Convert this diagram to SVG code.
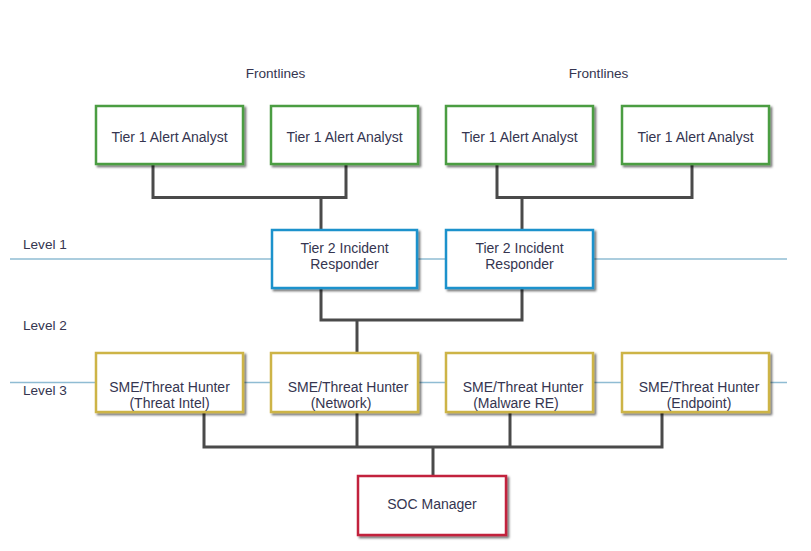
<svg xmlns="http://www.w3.org/2000/svg" width="811" height="551" viewBox="0 0 811 551">
<defs>
<filter id="sh" x="-10%" y="-10%" width="130%" height="130%">
<feDropShadow dx="2" dy="2" stdDeviation="1" flood-color="#000" flood-opacity="0.55"/>
</filter>
<style>
text{font-family:"Liberation Sans",Arial,sans-serif;font-size:14px;fill:#353550;}
.s{font-size:13.6px;}
.c{text-anchor:middle;}
.box{fill:#fff;stroke-width:2.5;filter:url(#sh);}
.g{stroke:#4b9d43;}
.b{stroke:#1c92cc;}
.y{stroke:#cdb447;}
.r{stroke:#c2213e;}
.lvl{stroke:#8fbcd3;stroke-width:1.3;fill:none;}
.con{stroke:#4a4a4a;stroke-width:3;fill:none;}
</style>
</defs>
<rect width="811" height="551" fill="#fff"/>
<g id="levels">
<line class="lvl" x1="10" y1="259" x2="787" y2="259"/>
<line class="lvl" x1="10" y1="382.5" x2="787" y2="382.5"/>
<text class="s" x="23" y="249">Level 1</text>
<text class="s" x="23" y="330">Level 2</text>
<text class="s" x="23" y="395">Level 3</text>
<text class="c s" x="275.5" y="78">Frontlines</text>
<text class="c s" x="598.5" y="78">Frontlines</text>
</g>
<g id="connectors">
<polyline class="con" points="153,165 153,197.5 346,197.5 346,165"/>
<line class="con" x1="321" y1="197.5" x2="321" y2="230"/>
<polyline class="con" points="497,165 497,197.5 692,197.5 692,165"/>
<line class="con" x1="522" y1="197.5" x2="522" y2="230"/>
<polyline class="con" points="321,288 321,320 522,320 522,288"/>
<line class="con" x1="357" y1="320" x2="357" y2="353"/>
<polyline class="con" points="204,412 204,447 662,447 662,412"/>
<line class="con" x1="357" y1="412" x2="357" y2="447"/>
<line class="con" x1="510" y1="412" x2="510" y2="447"/>
<line class="con" x1="433" y1="447" x2="433" y2="476"/>
</g>
<g id="t1a"><rect class="box g" x="96" y="106" width="147" height="58"/><text class="c" x="169.5" y="142">Tier 1 Alert Analyst</text></g>
<g id="t1b"><rect class="box g" x="271" y="106" width="147" height="58"/><text class="c" x="344.5" y="142">Tier 1 Alert Analyst</text></g>
<g id="t1c"><rect class="box g" x="446" y="106" width="147" height="58"/><text class="c" x="519.5" y="142">Tier 1 Alert Analyst</text></g>
<g id="t1d"><rect class="box g" x="622" y="106" width="147" height="58"/><text class="c" x="695.5" y="142">Tier 1 Alert Analyst</text></g>
<g id="t2a"><rect class="box b" x="272" y="230" width="145" height="58"/><text class="c" x="344.5" y="253">Tier 2 Incident</text><text class="c" x="344.5" y="268.5">Responder</text></g>
<g id="t2b"><rect class="box b" x="446" y="230" width="147" height="58"/><text class="c" x="519.5" y="253">Tier 2 Incident</text><text class="c" x="519.5" y="268.5">Responder</text></g>
<g id="sme1"><rect class="box y" x="96" y="353" width="147" height="59"/><text class="c" x="169.5" y="391.5">SME/Threat Hunter</text><text class="c" x="169.5" y="407.5">(Threat Intel)</text></g>
<g id="sme2"><rect class="box y" x="271" y="353" width="147" height="59"/><text class="c" x="348" y="391.5">SME/Threat Hunter</text><text class="c" x="341" y="407.5">(Network)</text></g>
<g id="sme3"><rect class="box y" x="446" y="353" width="147" height="59"/><text class="c" x="523" y="391.5">SME/Threat Hunter</text><text class="c" x="516" y="407.5">(Malware RE)</text></g>
<g id="sme4"><rect class="box y" x="622" y="353" width="147" height="59"/><text class="c" x="699" y="391.5">SME/Threat Hunter</text><text class="c" x="699" y="407.5">(Endpoint)</text></g>
<g id="soc"><rect class="box r" x="358" y="476" width="148" height="59"/><text class="c" x="432" y="509">SOC Manager</text></g>
</svg>
